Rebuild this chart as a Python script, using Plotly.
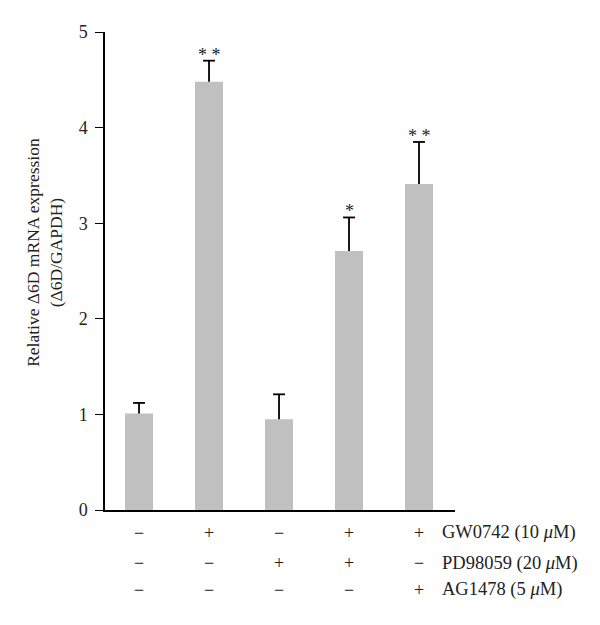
import plotly.graph_objects as go

categories = ["G1", "G2", "G3", "G4", "G5"]
means = [1.01, 4.48, 0.95, 2.71, 3.41]
err_plus = [0.11, 0.22, 0.26, 0.35, 0.44]
signif = ["", "**", "", "*", "**"]
gw0742 = ["−", "+", "−", "+", "+"]
pd98059 = ["−", "−", "+", "+", "−"]
ag1478 = ["−", "−", "−", "−", "+"]
row_labels = ["GW0742 (10 <i>μ</i>M)", "PD98059 (20 <i>μ</i>M)", "AG1478 (5 <i>μ</i>M)"]
y_ticks = [0, 1, 2, 3, 4, 5]

FONT = "Liberation Serif, Times New Roman, serif"
xs = list(range(len(categories)))
CAP = 0.085  # half cap width in category units

# error bar paths (upper only) built from the data
ex, ey = [], []
for x, m, e in zip(xs, means, err_plus):
    ex += [x, x, None, x - CAP, x + CAP, None]
    ey += [m, m + e, None, m + e, m + e, None]

fig = go.Figure()
fig.add_trace(go.Scatter(
    x=ex, y=ey, mode="lines", line=dict(color="black", width=1.8),
    showlegend=False, hoverinfo="skip",
))
fig.add_trace(go.Bar(
    x=xs, y=means, width=0.4,
    marker=dict(color="#c0c0c0", line=dict(width=0)),
    showlegend=False,
))

annotations = []
for i, s in enumerate(signif):
    if s:
        annotations.append(dict(
            x=xs[i], y=means[i] + err_plus[i], xref="x", yref="y",
            text=" ".join(s), showarrow=False, yanchor="bottom", yshift=-6,
            font=dict(family=FONT, size=18, color="#222"),
        ))

rows = [gw0742, pd98059, ag1478]
row_y = [-0.048, -0.111, -0.167]
for r, (vals, ypos) in enumerate(zip(rows, row_y)):
    for i, v in enumerate(vals):
        annotations.append(dict(
            x=xs[i], y=ypos, xref="x", yref="paper", text=v, showarrow=False,
            xanchor="center", yanchor="middle",
            font=dict(family=FONT, size=18, color="#222"),
        ))
    annotations.append(dict(
        x=4.3, y=ypos, xref="x", yref="paper", text=row_labels[r], showarrow=False,
        xanchor="left", yanchor="middle",
        font=dict(family=FONT, size=18.5, color="#222"),
    ))

annotations.append(dict(
    x=0, y=0.538, xref="paper", yref="paper", xshift=-60,
    text="Relative Δ6D mRNA expression<br>(Δ6D/GAPDH)", textangle=-90,
    showarrow=False, xanchor="center", yanchor="middle",
    font=dict(family=FONT, size=17.5, color="#222"),
))

fig.update_layout(
    width=600, height=625,
    margin=dict(l=97, r=153, t=24, b=123),
    plot_bgcolor="white", paper_bgcolor="white",
    font=dict(family=FONT, color="#222"),
    annotations=annotations,
)
fig.update_xaxes(
    range=[-0.486, 4.514], showticklabels=False, ticks="",
    showline=True, linecolor="black", linewidth=1.5, showgrid=False,
    zeroline=False,
)
fig.update_yaxes(
    range=[0, 5], tickvals=y_ticks, ticks="outside", ticklen=8,
    tickwidth=1.3, tickcolor="black", ticklabelstandoff=4,
    showline=True, linecolor="black", linewidth=1.5, showgrid=False,
    zeroline=False, tickfont=dict(family=FONT, size=18, color="#222"),
)

fig.write_html("out.html")
